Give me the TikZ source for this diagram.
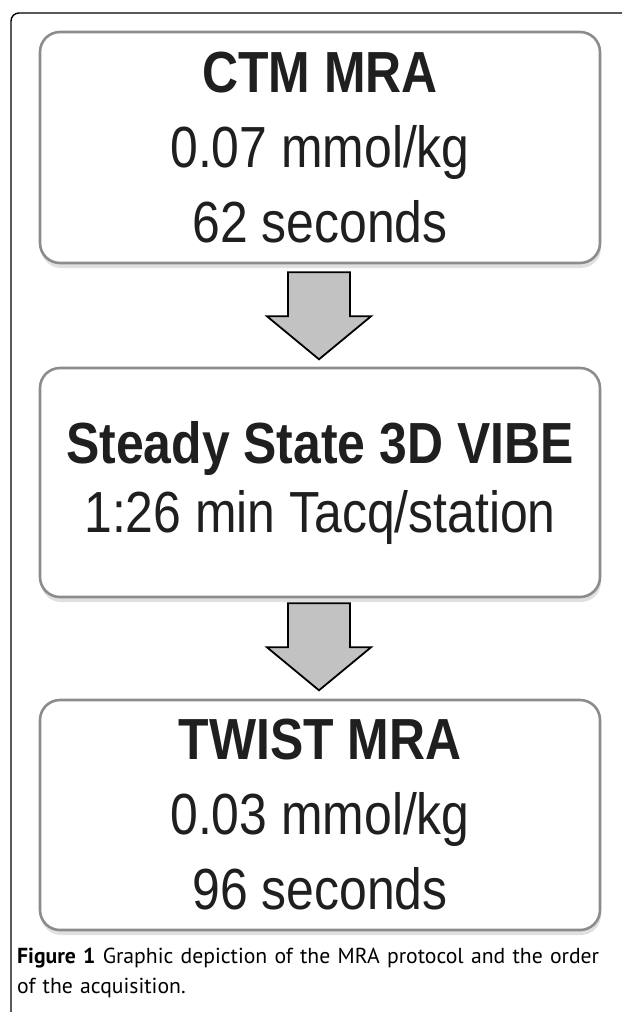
\documentclass[tikz,border=0pt]{standalone}
\usepackage{fontspec}
\usepackage{tikz}
\usetikzlibrary{positioning,calc,shadows}
\newfontfamily\boxfont[FakeStretch=0.86]{Liberation Sans}
\newfontfamily\capfont{PT Sans}
\definecolor{boxline}{gray}{0.55}
\definecolor{arrowfill}{gray}{0.76}
\definecolor{inktext}{gray}{0.12}
\tikzset{
  stagebox/.style  = {draw=boxline, fill=white, line width=2.6pt, rectangle,
                      rounded corners=20pt, minimum width=560pt, align=center,
                      text=inktext, font=\boxfont\fontsize{58}{75}\selectfont,
                      drop shadow={shadow xshift=1pt, shadow yshift=-5pt,
                                   opacity=0.12, fill=black}},
  flowarrow/.style = {draw=black, line width=1.8pt, fill=arrowfill, line join=miter},
  frameline/.style = {draw=black, line width=1.4pt, rounded corners=8pt},
}
\newcommand{\stagearrow}[1]{\draw[flowarrow, shift={(#1)}]
  (-31,0) -- (31,0) -- (31,-44) -- (52,-44) -- (0,-87) -- (-52,-44) -- (-31,-44) -- cycle;}

\begin{document}
\begin{tikzpicture}[x=1pt, y=1pt]
\useasboundingbox (0,0) rectangle (622,-1012);
% ---------------- outer frame ----------------
\draw[frameline] (622,-13) -- (11,-13) -- (11,-1012);
% ---------------- stages ----------------
\node[stagebox, minimum height=231pt] (ctm) at (320,-147.5)
   {\textbf{CTM MRA}\\0.07 mmol/kg\\62 seconds};
\node[stagebox, minimum height=229pt] (vibe) at (320,-482.5)
   {\textbf{Steady State 3D VIBE}\\[-6pt]1:26 min Tacq/station};
\node[stagebox, minimum height=230pt] (twist) at (320,-815)
   {\textbf{TWIST MRA}\\0.03 mmol/kg\\96 seconds};
% ---------------- arrows ----------------
\coordinate (a1) at ($(ctm.south)+(-1,-8)$);
\coordinate (a2) at ($(vibe.south)+(-1,-5)$);
\stagearrow{a1}
\stagearrow{a2}
% ---------------- caption ----------------
\node[anchor=north west, inner sep=0pt, align=left, text width=604pt,
      font=\capfont\fontsize{21.7}{30}\selectfont] (cap) at (17,-948)
   {\textbf{Figure 1} Graphic depiction of the MRA protocol and the order\\
    of the acquisition.};
\end{tikzpicture}
\end{document}
